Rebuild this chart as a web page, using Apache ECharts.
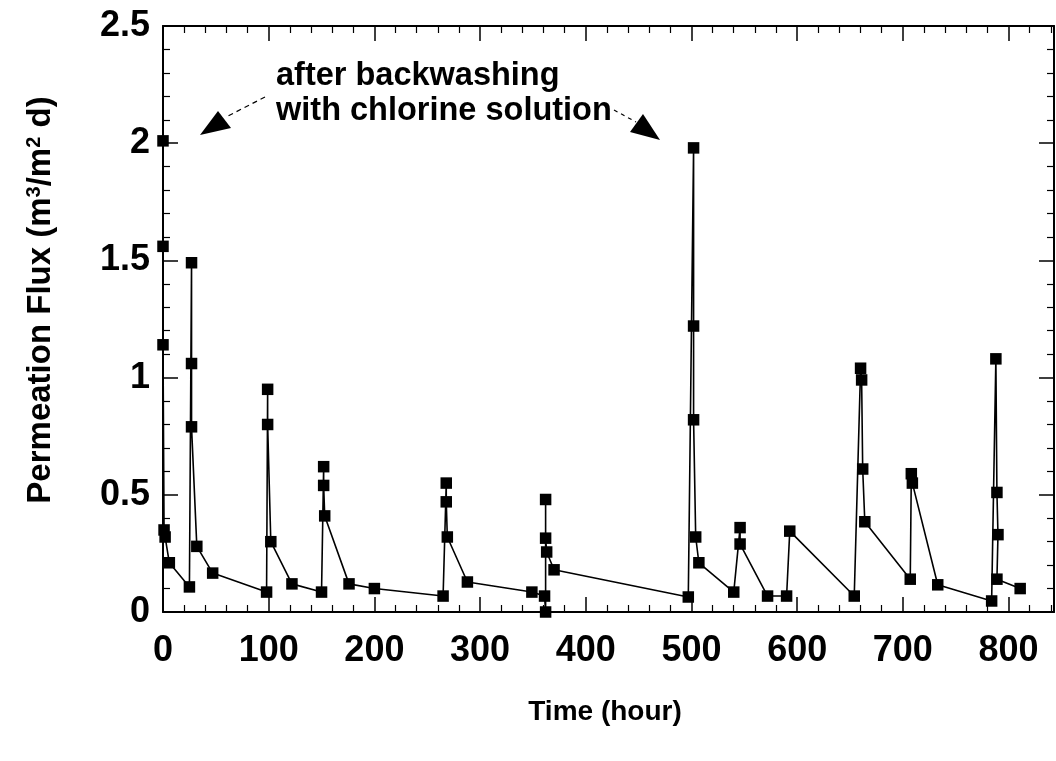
<!DOCTYPE html>
<html>
<head>
<meta charset="utf-8">
<script src="https://cdn.jsdelivr.net/npm/echarts@6/dist/echarts.min.js"></script>
<style>
html,body{margin:0;padding:0;background:#fff;}
#c{width:1056px;height:761px;}
</style>
</head>
<body>
<div id="c"></div>
<script>
// Time (hour)
const time = [0,0,0,1,2,6,25,27,27,27,32,47,98,99,99,102,122,150,152,152,153,176,200,265,268,268,269,288,349,361,362,362,362,363,370,497,502,502,502,504,507,540,546,546,572,590,593,654,660,661,662,664,707,708,709,733,784,788,789,790,789,811];
// Permeation flux (m3/m2 d)
const flux = [2.01,1.56,1.14,0.35,0.32,0.21,0.107,1.49,1.06,0.79,0.28,0.166,0.085,0.95,0.80,0.30,0.12,0.085,0.62,0.54,0.41,0.12,0.10,0.068,0.55,0.47,0.32,0.128,0.085,0.068,0.0,0.48,0.315,0.256,0.18,0.064,1.98,1.22,0.82,0.32,0.21,0.085,0.36,0.29,0.068,0.068,0.345,0.068,1.04,0.99,0.61,0.385,0.14,0.59,0.55,0.116,0.047,1.08,0.51,0.33,0.14,0.10];
const xTitle = 'Time (hour)';
const annotationLines = ['after backwashing', 'with chlorine solution'];

const FONT = '"Liberation Sans", Arial, sans-serif';
const chart = echarts.init(document.getElementById('c'));

function xAx(pos, labels) {
  return {
    type: 'value', position: pos, min: 0, max: 843, interval: 100,
    axisLine: { show: true, onZero: false, lineStyle: { color: '#000', width: 2 } },
    axisTick: { show: true, inside: true, length: 15, lineStyle: { color: '#000', width: 1.5 } },
    minorTick: { show: true, splitNumber: 5, length: 7, lineStyle: { color: '#000', width: 1.2 } },
    splitLine: { show: false },
    axisLabel: { show: labels, showMaxLabel: false, margin: 21, color: '#000', fontSize: 36, fontWeight: 'bold', fontFamily: FONT }
  };
}
function yAx(pos, labels) {
  return {
    type: 'value', position: pos, min: 0, max: 2.5, interval: 0.5,
    axisLine: { show: true, onZero: false, lineStyle: { color: '#000', width: 2 } },
    axisTick: { show: true, inside: true, length: 15, lineStyle: { color: '#000', width: 1.5 } },
    minorTick: { show: true, splitNumber: 5, length: 7, lineStyle: { color: '#000', width: 1.2 } },
    splitLine: { show: false },
    axisLabel: { show: labels, margin: 13, color: '#000', fontSize: 36, fontWeight: 'bold', fontFamily: FONT }
  };
}

chart.setOption({
  animation: false,
  backgroundColor: '#fff',
  grid: { left: 163, right: 2, top: 26, bottom: 149, containLabel: false },
  xAxis: [xAx('bottom', true), xAx('top', false)],
  yAxis: [yAx('left', true), yAx('right', false)],
  series: [{
    type: 'line',
    xAxisIndex: 0, yAxisIndex: 0,
    data: time.map((t, i) => [t, flux[i]]),
    symbol: 'rect', symbolSize: 11.5,
    clip: false,
    lineStyle: { color: '#000', width: 1.6 },
    itemStyle: { color: '#000' }
  }],
  graphic: [
    { type: 'text', x: 605, y: 712, style: { text: xTitle, fill: '#000', font: 'bold 28px ' + FONT, align: 'center', verticalAlign: 'middle' } },
    { type: 'text', x: 41, y: 300, rotation: Math.PI / 2,
      style: {
        text: '{t|Permeation Flux (m}{s|3}{t|/m}{s|2}{t| d)}',
        align: 'center', verticalAlign: 'middle',
        rich: {
          t: { fill: '#000', font: 'bold 33px ' + FONT, verticalAlign: 'bottom' },
          s: { fill: '#000', font: 'bold 20px ' + FONT, verticalAlign: 'top', padding: [0, 0, 13, 0] }
        }
      } },
    { type: 'text', x: 276, y: 76, style: { text: annotationLines[0], fill: '#000', font: 'bold 32.5px ' + FONT, align: 'left', verticalAlign: 'middle' } },
    { type: 'text', x: 276, y: 111, style: { text: annotationLines[1], fill: '#000', font: 'bold 32.5px ' + FONT, align: 'left', verticalAlign: 'middle' } },
    // left arrow
    { type: 'line', shape: { x1: 265, y1: 97, x2: 228, y2: 116 }, style: { stroke: '#000', lineWidth: 1.2, lineDash: [5, 4] } },
    { type: 'polygon', shape: { points: [[200, 135], [218, 111], [231, 128]] }, style: { fill: '#000' } },
    // right arrow
    { type: 'line', shape: { x1: 614, y1: 110, x2: 636, y2: 122 }, style: { stroke: '#000', lineWidth: 1.2, lineDash: [4, 4] } },
    { type: 'polygon', shape: { points: [[660, 140], [643, 114], [630, 132]] }, style: { fill: '#000' } }
  ]
});
</script>
</body>
</html>
